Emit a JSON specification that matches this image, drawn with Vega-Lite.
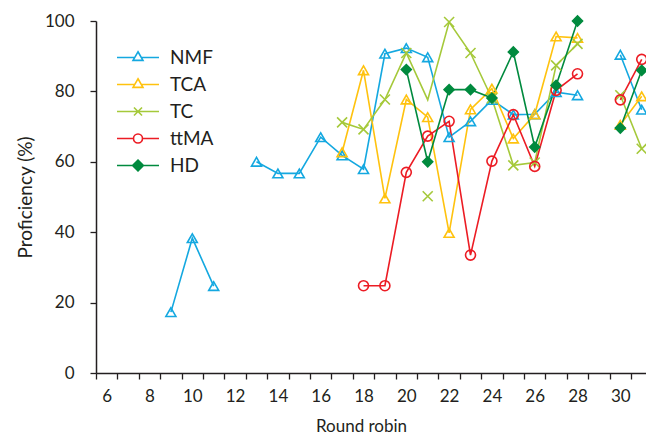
{
  "$schema": "https://vega.github.io/schema/vega-lite/v6.json",
  "width": 550,
  "height": 352,
  "autosize": {"type": "none"},
  "padding": {"left": 96, "top": 21, "right": 0, "bottom": 64},
  "background": "white",
  "config": {
    "view": {"stroke": null},
    "font": "Lato",
    "axis": {
      "grid": false,
      "domainColor": "#231F20",
      "domainWidth": 1.5,
      "tickColor": "#231F20",
      "tickWidth": 1.3,
      "tickSize": 6,
      "labelColor": "#231F20",
      "titleColor": "#231F20",
      "labelFont": "Lato",
      "titleFont": "Lato",
      "labelFontSize": 17,
      "titleFontSize": 18,
      "titleFontWeight": "normal"
    },
    "legend": {
      "orient": "none",
      "legendX": 32.5,
      "legendY": 27,
      "title": null,
      "padding": 0,
      "labelFont": "Lato",
      "labelFontSize": 19,
      "labelColor": "#231F20",
      "symbolSize": 144,
      "symbolStrokeWidth": 1.6,
      "labelOffset": 22.5,
      "rowPadding": 7
    }
  },
  "data": {
    "values": [
      {"method": "NMF", "round": 9, "value": 17.3},
      {"method": "NMF", "round": 10, "value": 38.3},
      {"method": "NMF", "round": 11, "value": 24.7},
      {"method": "NMF", "round": 12, "value": null},
      {"method": "NMF", "round": 13, "value": 60},
      {"method": "NMF", "round": 14, "value": 56.7},
      {"method": "NMF", "round": 15, "value": 56.7},
      {"method": "NMF", "round": 16, "value": 67},
      {"method": "NMF", "round": 17, "value": 61.8},
      {"method": "NMF", "round": 18, "value": 57.9},
      {"method": "NMF", "round": 19, "value": 90.7},
      {"method": "NMF", "round": 20, "value": 92.3},
      {"method": "NMF", "round": 21, "value": 89.7},
      {"method": "NMF", "round": 22, "value": 67},
      {"method": "NMF", "round": 23, "value": 71.5},
      {"method": "NMF", "round": 24, "value": 77.6},
      {"method": "NMF", "round": 25, "value": 73.4},
      {"method": "NMF", "round": 26, "value": 73.5},
      {"method": "NMF", "round": 27, "value": 79.8},
      {"method": "NMF", "round": 28, "value": 78.9},
      {"method": "NMF", "round": 29, "value": null},
      {"method": "NMF", "round": 30, "value": 90.4},
      {"method": "NMF", "round": 31, "value": 74.8},
      {"method": "TCA", "round": 17, "value": 62.7},
      {"method": "TCA", "round": 18, "value": 86},
      {"method": "TCA", "round": 19, "value": 49.6},
      {"method": "TCA", "round": 20, "value": 77.7},
      {"method": "TCA", "round": 21, "value": 72.7},
      {"method": "TCA", "round": 22, "value": 39.8},
      {"method": "TCA", "round": 23, "value": 74.9},
      {"method": "TCA", "round": 24, "value": 80.8},
      {"method": "TCA", "round": 25, "value": 66.6},
      {"method": "TCA", "round": 26, "value": 73.5},
      {"method": "TCA", "round": 27, "value": 95.6},
      {"method": "TCA", "round": 28, "value": 95.2},
      {"method": "TCA", "round": 29, "value": null},
      {"method": "TCA", "round": 30, "value": 70.5},
      {"method": "TCA", "round": 31, "value": 78.6},
      {"method": "TC", "round": 17, "value": 71.2},
      {"method": "TC", "round": 18, "value": 69.2},
      {"method": "TC", "round": 19, "value": 77.7},
      {"method": "TC", "round": 20, "value": 90.9},
      {"method": "TC", "round": 21, "value": 77.6, "role": "line"},
      {"method": "TC", "round": 21, "value": 50.2, "role": "point"},
      {"method": "TC", "round": 22, "value": 99.7},
      {"method": "TC", "round": 23, "value": 90.9},
      {"method": "TC", "round": 24, "value": 78},
      {"method": "TC", "round": 25, "value": 59},
      {"method": "TC", "round": 26, "value": 59.8},
      {"method": "TC", "round": 27, "value": 87.4},
      {"method": "TC", "round": 28, "value": 93.5},
      {"method": "TC", "round": 29, "value": null},
      {"method": "TC", "round": 30, "value": 78.9},
      {"method": "TC", "round": 31, "value": 63.7},
      {"method": "ttMA", "round": 18, "value": 24.8},
      {"method": "ttMA", "round": 19, "value": 24.8},
      {"method": "ttMA", "round": 20, "value": 57},
      {"method": "ttMA", "round": 21, "value": 67.3},
      {"method": "ttMA", "round": 22, "value": 71.5},
      {"method": "ttMA", "round": 23, "value": 33.5},
      {"method": "ttMA", "round": 24, "value": 60.2},
      {"method": "ttMA", "round": 25, "value": 73.4},
      {"method": "ttMA", "round": 26, "value": 58.7},
      {"method": "ttMA", "round": 27, "value": 80.3},
      {"method": "ttMA", "round": 28, "value": 85},
      {"method": "ttMA", "round": 29, "value": null},
      {"method": "ttMA", "round": 30, "value": 77.6},
      {"method": "ttMA", "round": 31, "value": 89.1},
      {"method": "HD", "round": 20, "value": 86.2},
      {"method": "HD", "round": 21, "value": 60},
      {"method": "HD", "round": 22, "value": 80.5},
      {"method": "HD", "round": 23, "value": 80.5},
      {"method": "HD", "round": 24, "value": 78.1},
      {"method": "HD", "round": 25, "value": 91.2},
      {"method": "HD", "round": 26, "value": 64.2},
      {"method": "HD", "round": 27, "value": 81.7},
      {"method": "HD", "round": 28, "value": 100},
      {"method": "HD", "round": 29, "value": null},
      {"method": "HD", "round": 30, "value": 69.6},
      {"method": "HD", "round": 31, "value": 86}
    ]
  },
  "encoding": {
    "x": {
      "field": "round",
      "type": "quantitative",
      "scale": {"domain": [5.5, 31.2], "nice": false, "zero": false},
      "axis": {
        "title": "Round robin",
        "values": [6, 7, 8, 9, 10, 11, 12, 13, 14, 15, 16, 17, 18, 19, 20, 21, 22, 23, 24, 25, 26, 27, 28, 29, 30, 31],
        "tickOffset": -10.7,
        "labelOffset": 10.7,
        "labelExpr": "datum.value % 2 === 0 ? datum.label : ''",
        "labelFlush": false,
        "labelOverlap": false,
        "labelPadding": 9,
        "titlePadding": 14,
        "titleFontSize": 17,
        "titleX": 265
      }
    },
    "y": {
      "field": "value",
      "type": "quantitative",
      "scale": {"domain": [0, 100], "nice": false},
      "axis": {
        "title": "Proficiency (%)",
        "values": [0, 20, 40, 60, 80, 100],
        "labelPadding": 16,
        "titlePadding": 9,
        "titleFontSize": 19
      }
    }
  },
  "resolve": {"scale": {"color": "independent", "shape": "independent", "fill": "independent", "size": "independent"}},
  "layer": [
    {
      "transform": [{"filter": "datum.role !== 'point'"}],
      "mark": {"type": "line", "strokeWidth": 1.6, "invalid": "break-paths-filter-domains"},
      "encoding": {
        "color": {
          "field": "method",
          "type": "nominal",
          "scale": {"domain": ["NMF", "TCA", "TC", "ttMA", "HD"], "range": ["#14A8E0", "#FFC20E", "#A5C93A", "#EC1C24", "#008A3E"]},
          "legend": null
        }
      }
    },
    {
      "transform": [{"filter": "datum.role !== 'line'"}],
      "mark": {"type": "point", "filled": false, "strokeWidth": 1.6, "opacity": 1},
      "encoding": {
        "color": {
          "field": "method",
          "type": "nominal",
          "scale": {"domain": ["NMF", "TCA", "TC", "ttMA", "HD"], "range": ["#14A8E0", "#FFC20E", "#A5C93A", "#EC1C24", "#008A3E"]},
          "legend": null
        },
        "shape": {
          "field": "method",
          "type": "nominal",
          "scale": {"domain": ["NMF", "TCA", "TC", "ttMA", "HD"], "range": ["triangle-up", "triangle-up", "M-1,-1L1,1M1,-1L-1,1", "circle", "diamond"]},
          "legend": null
        },
        "size": {
          "field": "method",
          "type": "ordinal",
          "scale": {"domain": ["NMF", "TCA", "TC", "ttMA", "HD"], "range": [100, 100, 60, 72, 110]},
          "legend": null
        },
        "fill": {
          "condition": {"test": "datum.method === 'HD'", "value": "#008A3E"},
          "value": "transparent"
        }
      }
    },
    {
      "transform": [{"filter": "datum.round < 0"}],
      "mark": {"type": "point", "filled": false, "strokeWidth": 1.6, "opacity": 1},
      "encoding": {
        "color": {
          "field": "method",
          "type": "nominal",
          "scale": {"domain": ["NMF", "TCA", "TC", "ttMA", "HD"], "range": ["#14A8E0", "#FFC20E", "#A5C93A", "#EC1C24", "#008A3E"]},
          "legend": {}
        },
        "shape": {
          "field": "method",
          "type": "nominal",
          "scale": {"domain": ["NMF", "TCA", "TC", "ttMA", "HD"], "range": [
            "M-3.5,0H-0.55M0.55,0H3.5M0,-0.96L0.83,0.48H-0.83Z",
            "M-3.5,0H-0.55M0.55,0H3.5M0,-0.96L0.83,0.48H-0.83Z",
            "M-3.5,0H3.5M-0.67,-0.67L0.67,0.67M0.67,-0.67L-0.67,0.67",
            "M-3.5,0H-0.75M0.75,0H3.5M0.75,0A0.75,0.75,0,1,1,-0.75,0A0.75,0.75,0,1,1,0.75,0Z",
            "M-3.5,0H3.5M0,-0.9L0.9,0L0,0.9L-0.9,0Z"
          ]},
          "legend": {}
        },
        "fill": {
          "field": "method",
          "type": "nominal",
          "scale": {"domain": ["NMF", "TCA", "TC", "ttMA", "HD"], "range": ["white", "white", "white", "white", "#008A3E"]},
          "legend": {}
        }
      }
    }
  ]
}
